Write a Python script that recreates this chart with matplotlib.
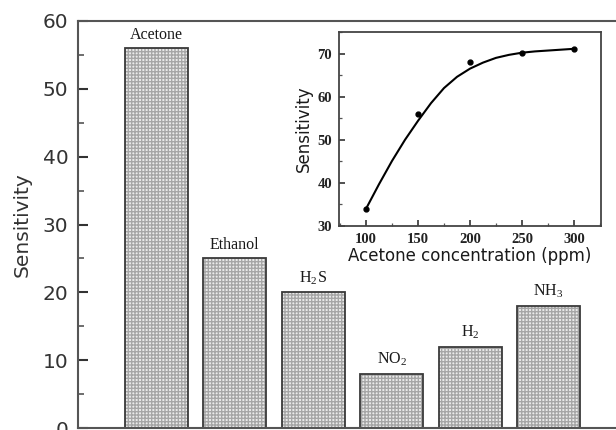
import matplotlib
matplotlib.use('Agg')
import matplotlib.pyplot as plt
from matplotlib.ticker import MultipleLocator

# gas response at fixed concentration
gases = ['Acetone', 'Ethanol', r'H$_\mathregular{2}$S', r'NO$_\mathregular{2}$',
         r'H$_\mathregular{2}$', r'NH$_\mathregular{3}$']
sensitivity = [56, 25, 20, 8, 12, 18]

# acetone concentration series (measured points)
conc = [100, 150, 200, 250, 300]
conc_sens = [34, 56, 68, 70.2, 71.1]

# fitted curve through the measured points
fit_conc = [100, 112.5, 125, 137.5, 150, 162.5, 175, 187.5, 200, 212.5,
            225, 237.5, 250, 262.5, 275, 287.5, 300]
fit_sens = [34, 39.7, 45.1, 50.0, 54.4, 58.5, 62.0, 64.6, 66.5, 67.9,
            69.0, 69.7, 70.2, 70.5, 70.7, 70.9, 71.1]

plt.rcParams['mathtext.fontset'] = 'stix'
plt.rcParams['hatch.color'] = '#a6a6a6'
plt.rcParams['hatch.linewidth'] = 1.0

fig = plt.figure(figsize=(6.16, 4.30), dpi=100)
ax = fig.add_axes([78/616, 2/430, 549/616, 407/430])

x = list(range(len(gases)))
ax.bar(x, sensitivity, width=0.8, color='#ebebeb', hatch='+++++',
       edgecolor='#a6a6a6', linewidth=0)
ax.bar(x, sensitivity, width=0.8, fill=False, edgecolor='#3a3a3a', linewidth=1.3)

for xi, v, name in zip(x, sensitivity, gases):
    ax.annotate(name, (xi, v), xytext=(0, 4), textcoords='offset points',
                ha='center', va='bottom', fontsize=11.5,
                family='Liberation Serif', color='#1a1a1a')

ax.set_xlim(-1, 6)
ax.set_ylim(0, 60)
ax.yaxis.set_major_locator(MultipleLocator(10))
ax.yaxis.set_minor_locator(MultipleLocator(5))
ax.set_xticks([])
for s in ['left', 'top', 'bottom', 'right']:
    ax.spines[s].set_color('#555555')
    ax.spines[s].set_linewidth(1.5)
ax.tick_params(axis='y', which='major', direction='in', length=7, width=1.5,
               pad=7, labelsize=14.5, colors='#333333')
ax.tick_params(axis='y', which='minor', direction='in', length=4, width=1.2,
               colors='#555555')
ax.set_ylabel('Sensitivity', fontsize=14.5, color='#333333', labelpad=8)

# inset: sensitivity vs acetone concentration
ins = fig.add_axes([339/616, 204/430, 262/616, 194/430])
ins.plot(fit_conc, fit_sens, color='black', linewidth=1.5)
ins.plot(conc, conc_sens, 'o', color='black', markersize=3.5)
ins.set_xlim(74, 326)
ins.set_ylim(30, 75)
ins.xaxis.set_major_locator(MultipleLocator(50))
ins.xaxis.set_minor_locator(MultipleLocator(25))
ins.yaxis.set_major_locator(MultipleLocator(10))
ins.yaxis.set_minor_locator(MultipleLocator(5))
for s in ins.spines.values():
    s.set_color('#444444')
    s.set_linewidth(1.3)
ins.tick_params(which='major', direction='in', length=4, width=1.1, pad=5,
                labelsize=10.5, colors='#222222')
ins.tick_params(which='minor', direction='in', length=2, width=0.9,
                colors='#555555')
for lab in ins.get_xticklabels() + ins.get_yticklabels():
    lab.set_family('Liberation Serif')
    lab.set_fontweight('bold')
ins.set_xlabel('Acetone concentration (ppm)', fontsize=12, color='#1a1a1a',
               labelpad=1)
ins.set_ylabel('Sensitivity', fontsize=12, color='#1a1a1a', labelpad=3)

fig.savefig('out.png', dpi=100)
